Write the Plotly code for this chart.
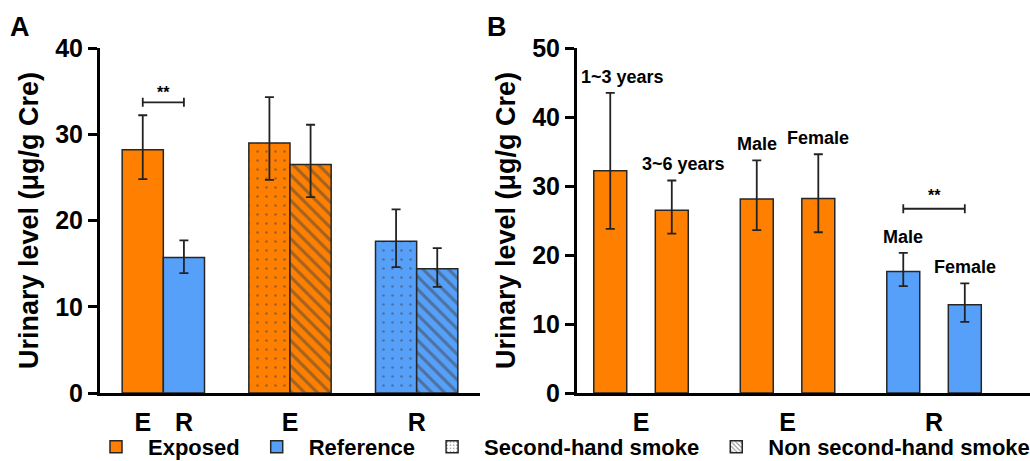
import plotly.graph_objects as go

# ---------------- data ----------------
# Panel A
a_tick_text = ["E", "R", "E", "R"]
a_group_labels = ["E", "R"]  # groups 2 and 3

exposed_mean, exposed_low, exposed_high = [28.2], [24.8], [32.2]
reference_mean, reference_low, reference_high = [15.7], [13.9], [17.7]

shs_mean = [29.0, 17.6]
shs_low = [24.7, 14.6]
shs_high = [34.3, 21.3]

nshs_mean = [26.5, 14.4]
nshs_low = [22.7, 12.3]
nshs_high = [31.1, 16.8]

# Panel B
b_tick_text = ["E", "E", "R"]
b_left_labels = ["1~3 years", "Male", "Male"]
b_right_labels = ["3~6 years", "Female", "Female"]
b_left_mean = [32.2, 28.1, 17.6]
b_left_low = [23.8, 23.6, 15.5]
b_left_high = [43.5, 33.7, 20.3]
b_right_mean = [26.5, 28.2, 12.8]
b_right_low = [23.1, 23.3, 10.3]
b_right_high = [30.8, 34.6, 15.9]
b_groups = ["E", "E", "R"]  # which cohort each pair belongs to

legend_names = ["Exposed", "Reference", "Second-hand smoke", "Non second-hand smoke"]
sig_text = "**"

# ---------------- style ----------------
ORANGE = "#FF8000"
BLUE = "#56A0FA"
EDGE = "#262626"
ERR = "#222222"
FONT = "Liberation Sans, Arial, sans-serif"
W, H = 1030, 461

BARGAP = 0.35
SLOT = (1 - BARGAP) / 2  # width of one bar slot in panel A (axis units)

# panel B bar geometry (axis units)
B_HALF_SEP = 0.21
B_WIDTH = 0.225

def cols(groups):
    return [ORANGE if g == "E" else BLUE for g in groups]

def err(mean, low, high, **kw):
    return dict(type="data", symmetric=False,
                array=[h - m for m, h in zip(mean, high)],
                arrayminus=[m - l for m, l in zip(mean, low)],
                color=ERR, thickness=1.8, width=4.5, **kw)

line = dict(color=EDGE, width=1.5)

fig = go.Figure()

# ---------- Panel A ----------
fig.add_trace(go.Bar(x=[0], y=exposed_mean, name=legend_names[0], offsetgroup="L",
                     marker=dict(color=ORANGE, line=line),
                     error_y=err(exposed_mean, exposed_low, exposed_high),
                     xaxis="x", yaxis="y", legendrank=1))
fig.add_trace(go.Bar(x=[0], y=reference_mean, name=legend_names[1], offsetgroup="R",
                     marker=dict(color=BLUE, line=line),
                     error_y=err(reference_mean, reference_low, reference_high),
                     xaxis="x", yaxis="y", legendrank=2))
fig.add_trace(go.Bar(x=[1, 2], y=shs_mean, offsetgroup="L", showlegend=False,
                     marker=dict(color=cols(a_group_labels), line=line,
                                 pattern=dict(shape=".", fgcolor="#000000",
                                              bgcolor=cols(a_group_labels),
                                              size=9, solidity=0.07, fillmode="overlay")),
                     error_y=err(shs_mean, shs_low, shs_high),
                     xaxis="x", yaxis="y"))
fig.add_trace(go.Bar(x=[1, 2], y=nshs_mean, offsetgroup="R", showlegend=False,
                     marker=dict(color=cols(a_group_labels), line=line,
                                 pattern=dict(shape="\\", fgcolor="#000000",
                                              bgcolor=cols(a_group_labels),
                                              size=9, solidity=0.35, fillmode="overlay")),
                     error_y=err(nshs_mean, nshs_low, nshs_high),
                     xaxis="x", yaxis="y"))

# significance bracket A (between the two bars of group 1)
a_sig_y = 33.7
fig.add_trace(go.Scatter(x=[0], y=[a_sig_y], mode="markers", marker=dict(size=0.1, color=ERR),
                         error_x=dict(type="data", array=[SLOT / 2], color=ERR, thickness=1.8, width=4.5),
                         showlegend=False, hoverinfo="skip", xaxis="x", yaxis="y"))

# ---------- Panel B ----------
xb = list(range(len(b_tick_text)))
fig.add_trace(go.Bar(x=xb, y=b_left_mean, showlegend=False,
                     offset=-B_HALF_SEP - B_WIDTH / 2, width=B_WIDTH,
                     marker=dict(color=cols(b_groups), line=line),
                     error_y=err(b_left_mean, b_left_low, b_left_high),
                     xaxis="x2", yaxis="y2"))
fig.add_trace(go.Bar(x=xb, y=b_right_mean, showlegend=False,
                     offset=B_HALF_SEP - B_WIDTH / 2, width=B_WIDTH,
                     marker=dict(color=cols(b_groups), line=line),
                     error_y=err(b_right_mean, b_right_low, b_right_high),
                     xaxis="x2", yaxis="y2"))

b_sig_y = 26.7
fig.add_trace(go.Scatter(x=[2], y=[b_sig_y], mode="markers", marker=dict(size=0.1, color=ERR),
                         error_x=dict(type="data", array=[B_HALF_SEP], color=ERR, thickness=1.8, width=4.5),
                         showlegend=False, hoverinfo="skip", xaxis="x2", yaxis="y2"))

# legend-only pattern entries
fig.add_trace(go.Bar(x=[None], y=[None], name=legend_names[2], offset=0, width=0.1,
                     marker=dict(color="white", line=line,
                                 pattern=dict(shape=".", fgcolor="#333333", bgcolor="white",
                                              size=4, solidity=0.2, fillmode="overlay")),
                     xaxis="x2", yaxis="y2", legendrank=3))
fig.add_trace(go.Bar(x=[None], y=[None], name=legend_names[3], offset=0, width=0.1,
                     marker=dict(color="white", line=line,
                                 pattern=dict(shape="\\", fgcolor="#222222", bgcolor="white",
                                              size=4, solidity=0.35, fillmode="overlay")),
                     xaxis="x2", yaxis="y2", legendrank=4))

# ---------- annotations ----------
ann = []
lab_font = dict(family=FONT, size=18, color="black", weight="bold")
for i in range(len(b_tick_text)):
    shift = 12 if "years" in b_left_labels[i] else 0
    ann.append(dict(x=i - B_HALF_SEP, y=b_left_high[i], xref="x2", yref="y2", text=b_left_labels[i],
                    showarrow=False, yanchor="bottom", yshift=4, xshift=shift, font=lab_font))
    ann.append(dict(x=i + B_HALF_SEP, y=b_right_high[i], xref="x2", yref="y2", text=b_right_labels[i],
                    showarrow=False, yanchor="bottom", yshift=4, xshift=shift, font=lab_font))

sig_font = dict(family=FONT, size=16, color="black", weight="bold")
ann.append(dict(x=0, y=a_sig_y, xref="x", yref="y", text=sig_text, showarrow=False,
                yanchor="middle", yshift=10, font=sig_font))
ann.append(dict(x=2, y=b_sig_y, xref="x2", yref="y2", text=sig_text, showarrow=False,
                yanchor="middle", yshift=13, font=sig_font))

panel_font = dict(family=FONT, size=27, color="black", weight="bold")
ann.append(dict(x=8 / W, y=1 - 27 / H, xref="paper", yref="paper", text="A", showarrow=False,
                xanchor="left", yanchor="middle", font=panel_font))
ann.append(dict(x=485 / W, y=1 - 27 / H, xref="paper", yref="paper", text="B", showarrow=False,
                xanchor="left", yanchor="middle", font=panel_font))

# ---------- axes ----------
y_dom = [1 - 393 / H, 1 - 48 / H]
tickfont = dict(family=FONT, size=25, color="black", weight="bold")
title_font = dict(family=FONT, size=27, color="black", weight="bold")

common_y = dict(showline=True, linewidth=3, linecolor="black", ticks="outside", ticklen=9,
                tickwidth=3, tickcolor="black", showgrid=False, zeroline=False,
                tickfont=tickfont, dtick=10, automargin=False)
common_x = dict(showline=True, linewidth=3, linecolor="black", ticks="", showgrid=False,
                zeroline=False, tickfont=tickfont, automargin=False, ticklabelstandoff=5)

fig.update_layout(
    width=W, height=H,
    margin=dict(l=0, r=0, t=0, b=0, autoexpand=False),
    paper_bgcolor="white", plot_bgcolor="white",
    font=dict(family=FONT, color="black"),
    barmode="group", bargap=BARGAP, bargroupgap=0.0,
    xaxis=dict(domain=[100 / W, 480 / W], range=[-0.5, 2.5], anchor="y",
               tickmode="array", tickvals=[-SLOT / 2, SLOT / 2, 1, 2], ticktext=a_tick_text,
               **common_x),
    yaxis=dict(domain=y_dom, range=[0, 40], anchor="x",
               title=dict(text="Urinary level (μg/g Cre)", font=title_font, standoff=9),
               **common_y),
    xaxis2=dict(domain=[577 / W, 1.0], range=[-0.437, 2.655], anchor="y2",
                tickmode="array", tickvals=xb, ticktext=b_tick_text, **common_x),
    yaxis2=dict(domain=y_dom, range=[0, 50], anchor="x2",
                title=dict(text="Urinary level (μg/g Cre)", font=title_font, standoff=9),
                **common_y),
    legend=dict(orientation="h", x=84 / W, xanchor="left", y=1 - 447 / H, yanchor="middle",
                font=dict(family=FONT, size=22, color="black", weight="bold"),
                bgcolor="rgba(0,0,0,0)", itemwidth=54, traceorder="normal"),
    annotations=ann,
    showlegend=True,
)

fig.write_html("out.html")
